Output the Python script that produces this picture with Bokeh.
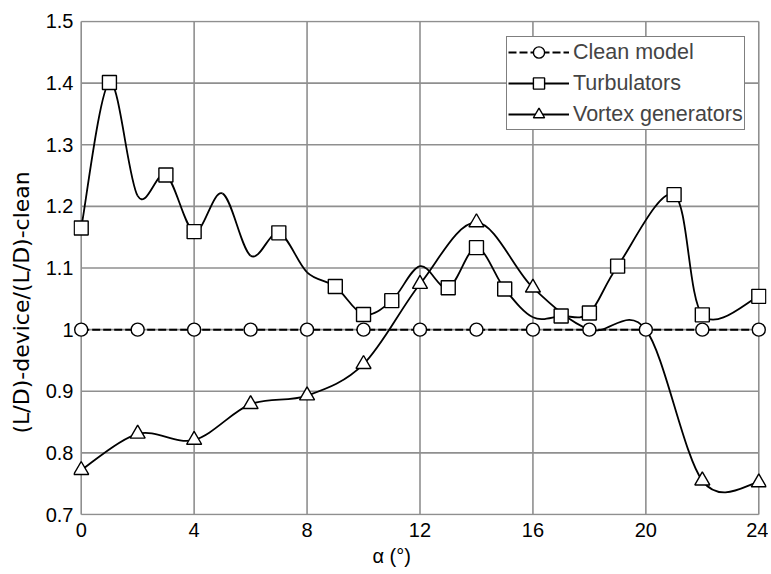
import numpy as np
from bokeh.plotting import figure
from bokeh.models import Legend, LegendItem, FixedTicker, Range1d, Title
from bokeh.embed import file_html
from bokeh.resources import INLINE

# ---------------- data ----------------
alpha_clean = [0, 2, 4, 6, 8, 10, 12, 14, 16, 18, 20, 22, 24]
ld_clean = [1.0, 1.0, 1.0, 1.0, 1.0, 1.0, 1.0, 1.0, 1.0, 1.0, 1.0, 1.0, 1.0]

alpha_turb = [0, 1, 2, 3, 4, 5, 6, 7, 8, 9, 10, 11, 12,
              13, 14, 15, 16, 17, 18, 19, 21, 22, 24]
ld_turb = [1.165, 1.401, 1.217, 1.251, 1.159, 1.221, 1.120, 1.157, 1.093,
           1.070, 1.0245, 1.047, 1.103, 1.068, 1.133, 1.066, 1.020, 1.022,
           1.027, 1.103, 1.219, 1.024, 1.054]
turb_marked = [True, True, False, True, True, False, False, True, False,
               True, True, True, False, True, True, True, False, True,
               True, True, True, True, True]

alpha_vg = [0, 2, 4, 6, 8, 10, 12, 14, 16, 18, 20, 22, 24]
ld_vg = [0.772, 0.831, 0.821, 0.879, 0.893, 0.944, 1.074, 1.174, 1.068,
         1.0, 1.0, 0.755, 0.752]
vg_marked = [True, True, True, True, True, True, True, True, True,
             False, False, True, True]

x_ticks = [0, 4, 8, 12, 16, 20, 24]
y_ticks = [0.7, 0.8, 0.9, 1.0, 1.1, 1.2, 1.3, 1.4, 1.5]
y_tick_labels = ["0.7", "0.8", "0.9", "1", "1.1", "1.2", "1.3", "1.4", "1.5"]

series_names = ["Clean model", "Turbulators", "Vortex generators"]
x_label = "α (°)"
y_label = "(L/D)-device/(L/D)-clean"

FONT = "Liberation Sans"
GRID = "#8f8f8f"


def smooth_segments(xs, ys):
    """Bezier control points for a smoothed line through the points."""
    x = np.asarray(xs, float)
    y = np.asarray(ys, float)
    n = len(x)
    xp = np.concatenate([[x[0]], x, [x[-1]]])
    yp = np.concatenate([[y[0]], y, [y[-1]]])
    return dict(
        x0=x[:-1], y0=y[:-1], x1=x[1:], y1=y[1:],
        cx0=x[:-1] + (xp[2:n + 1] - xp[0:n - 1]) / 6.0,
        cy0=y[:-1] + (yp[2:n + 1] - yp[0:n - 1]) / 6.0,
        cx1=x[1:] - (xp[3:n + 2] - xp[1:n]) / 6.0,
        cy1=y[1:] - (yp[3:n + 2] - yp[1:n]) / 6.0,
    )


def pick(vals, mask):
    return [v for v, m in zip(vals, mask) if m]


p = figure(width=768, height=570, output_backend="svg", toolbar_location=None,
           x_range=Range1d(-0.2727, 24.273), y_range=Range1d(0.6984, 1.5016),
           min_border_left=73, min_border_right=2, min_border_top=20,
           min_border_bottom=55)
p.outline_line_color = None
p.xgrid.visible = False
p.ygrid.visible = False
p.background_fill_color = "white"
p.border_fill_color = "white"

# grid drawn from the tick arrays, limited to the data box
p.segment(x0=[x_ticks[0]] * len(y_ticks), x1=[x_ticks[-1]] * len(y_ticks),
          y0=y_ticks, y1=y_ticks, line_color=GRID, line_width=1.6)
p.segment(x0=x_ticks, x1=x_ticks, y0=[y_ticks[0]] * len(x_ticks),
          y1=[y_ticks[-1]] * len(x_ticks), line_color=GRID, line_width=1.6)

# lines
r_clean_line = p.line(alpha_clean, ld_clean, line_color="black", line_width=2,
                      line_dash="8 3")
r_turb_line = p.bezier(**smooth_segments(alpha_turb, ld_turb),
                       line_color="black", line_width=1.8)
r_vg_line = p.bezier(**smooth_segments(alpha_vg, ld_vg),
                     line_color="black", line_width=1.8)

# markers
r_clean_m = p.scatter(alpha_clean, ld_clean, marker="circle", size=13,
                      fill_color="white", line_color="black", line_width=1.4)
r_turb_m = p.scatter(pick(alpha_turb, turb_marked), pick(ld_turb, turb_marked),
                     marker="square", size=14, fill_color="white",
                     line_color="black", line_width=1.4)
r_vg_m = p.scatter(pick(alpha_vg, vg_marked), pick(ld_vg, vg_marked),
                   marker="triangle", size=15, fill_color="white",
                   line_color="black", line_width=1.4)

# axes
for ax in (p.xaxis[0], p.yaxis[0]):
    ax.axis_line_color = None
    ax.major_tick_line_color = None
    ax.minor_tick_line_color = None
    ax.major_tick_out = 0
    ax.major_tick_in = 0
    ax.major_label_text_font = FONT
    ax.major_label_text_font_size = "20px"
    ax.major_label_text_color = "black"

p.xaxis.ticker = FixedTicker(ticks=x_ticks)
p.xaxis.major_label_standoff = 7
p.yaxis.ticker = FixedTicker(ticks=y_ticks)
p.yaxis.major_label_overrides = {t: s for t, s in zip(y_ticks, y_tick_labels)}
p.yaxis.major_label_standoff = 0

# axis titles
p.add_layout(Title(text=x_label, align="left", offset=299, standoff=6,
                   text_font=FONT, text_font_size="20px",
                   text_font_style="normal", text_color="black"), "below")
p.add_layout(Title(text=y_label, align="left", vertical_align="top",
                   offset=82, standoff=13, text_font="DejaVu Sans",
                   text_font_size="22px", text_font_style="normal",
                   text_color="black"), "left")

legend = Legend(items=[
    LegendItem(label=series_names[0], renderers=[r_clean_line, r_clean_m]),
    LegendItem(label=series_names[1], renderers=[r_turb_line, r_turb_m]),
    LegendItem(label=series_names[2], renderers=[r_vg_line, r_vg_m]),
], location=(433, 385), glyph_width=61, glyph_height=28, label_standoff=4,
    spacing=3, padding=1, margin=0, label_text_font=FONT,
    label_text_font_size="21.5px", border_line_color="black",
    border_line_width=1, background_fill_color="white",
    background_fill_alpha=1.0)
p.add_layout(legend)

open("out.html", "w").write(file_html(p, INLINE))
